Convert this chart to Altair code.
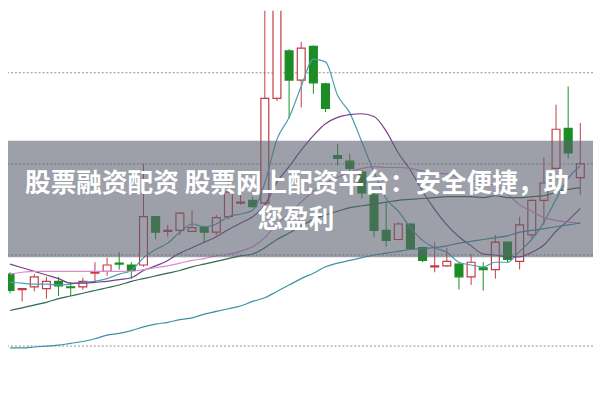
import altair as alt
import pandas as pd

# ---- data (prices; grid lines at 10, 11, 12, 13) ----
idx = list(range(48))
opens = [10.79, 10.62, 10.65, 10.63, 10.71, 10.65, 10.65, 10.80, 10.82, 10.91,
         10.89, 10.89, 11.42, 11.26, 11.27, 11.26, 11.30, 11.25, 11.42, 11.57,
         11.60, 11.57, 12.72, 13.24, 12.92, 13.29, 12.88, 12.09, 12.03, 11.91,
         11.66, 11.27, 11.17, 11.34, 11.08, 10.87, 10.88, 10.90, 10.76, 10.86,
         10.84, 11.14, 10.93, 11.22, 11.60, 11.95, 12.39, 11.85]
closes = [10.61, 10.63, 10.76, 10.71, 10.66, 10.64, 10.71, 10.81, 10.89, 10.90,
          10.83, 11.42, 11.25, 11.27, 11.46, 11.30, 11.25, 11.41, 11.69, 11.58,
          11.53, 12.72, 13.82, 12.92, 13.27, 12.89, 12.61, 12.06, 11.95, 11.68,
          11.27, 11.16, 11.34, 11.07, 10.94, 10.88, 10.93, 10.76, 10.92, 10.84,
          11.14, 10.95, 11.33, 11.60, 11.79, 12.38, 12.12, 12.00]
highs = [10.81, 10.64, 10.79, 10.76, 10.76, 10.70, 10.75, 10.92, 10.97, 11.03,
         10.92, 12.00, 11.43, 11.33, 11.47, 11.49, 11.32, 11.44, 11.82, 11.68,
         11.64, 13.99, 13.99, 13.26, 13.34, 13.30, 12.89, 12.22, 12.11, 11.93,
         11.68, 11.58, 11.36, 11.35, 11.09, 11.14, 11.08, 10.91, 11.01, 10.92,
         11.22, 11.15, 11.42, 11.61, 12.07, 12.65, 12.85, 12.45]
lows = [10.58, 10.49, 10.60, 10.52, 10.55, 10.55, 10.62, 10.70, 10.77, 10.84,
        10.74, 10.87, 11.17, 11.20, 11.22, 11.25, 11.14, 11.22, 11.39, 11.55,
        11.52, 11.55, 12.69, 12.50, 12.62, 12.77, 12.57, 11.98, 11.90, 11.62,
        11.20, 11.09, 11.16, 11.06, 10.92, 10.81, 10.87, 10.62, 10.67, 10.61,
        10.74, 10.92, 10.84, 11.18, 11.33, 11.95, 12.06, 11.66]

ma5 = [10.70, 10.69, 10.68, 10.68, 10.67, 10.68, 10.70, 10.71, 10.74, 10.79,
       10.83, 10.97, 11.06, 11.13, 11.25, 11.34, 11.31, 11.34, 11.42, 11.45,
       11.49, 11.79, 12.27, 12.51, 12.85, 13.15, 13.12, 12.75, 12.56, 12.24,
       11.91, 11.62, 11.48, 11.30, 11.16, 11.08, 11.03, 10.92, 10.89, 10.87,
       10.92, 10.92, 11.04, 11.17, 11.36, 11.61, 11.84, 11.98]
ma10 = [10.90, 10.86, 10.82, 10.78, 10.74, 10.69, 10.69, 10.70, 10.71, 10.73,
        10.75, 10.83, 10.88, 10.94, 11.02, 11.08, 11.14, 11.20, 11.28, 11.35,
        11.42, 11.55, 11.80, 11.97, 12.15, 12.31, 12.44, 12.51, 12.54, 12.55,
        12.52, 12.36, 12.12, 11.93, 11.70, 11.50, 11.33, 11.20, 11.10, 11.01,
        11.00, 10.98, 10.98, 11.03, 11.11, 11.26, 11.38, 11.51]
ma20 = [10.79, 10.81, 10.82, 10.82, 10.82, 10.82, 10.82, 10.82, 10.82, 10.82,
        10.82, 10.84, 10.86, 10.88, 10.91, 10.94, 10.96, 10.99, 11.01, 11.04,
        11.09, 11.19, 11.34, 11.45, 11.58, 11.70, 11.79, 11.85, 11.91, 11.95,
        11.97, 11.96, 11.96, 11.95, 11.92, 11.90, 11.89, 11.85, 11.82, 11.78,
        11.76, 11.67, 11.55, 11.48, 11.41, 11.38, 11.36, 11.35]
ma30 = [10.39, 10.42, 10.45, 10.48, 10.52, 10.55, 10.58, 10.61, 10.64, 10.67,
        10.71, 10.74, 10.77, 10.80, 10.83, 10.87, 10.90, 10.93, 10.96, 10.99,
        11.01, 11.08, 11.17, 11.24, 11.32, 11.39, 11.44, 11.48, 11.52, 11.54,
        11.56, 11.58, 11.60, 11.61, 11.62, 11.63, 11.64, 11.64, 11.64, 11.63,
        11.65, 11.63, 11.63, 11.64, 11.65, 11.69, 11.72, 11.74]
ma60 = [9.98, 9.98, 9.99, 10.00, 10.01, 10.03, 10.05, 10.08, 10.12, 10.14,
        10.17, 10.21, 10.24, 10.26, 10.29, 10.31, 10.35, 10.38, 10.41, 10.44,
        10.49, 10.53, 10.60, 10.67, 10.74, 10.80, 10.87, 10.91, 10.94, 10.97,
        11.00, 11.02, 11.04, 11.06, 11.07, 11.08, 11.10, 11.13, 11.15, 11.17,
        11.19, 11.21, 11.25, 11.27, 11.29, 11.31, 11.33, 11.35]

ma_names = ["MA5", "MA10", "MA20", "MA30", "MA60"]
ma_colors = ["#4a9fb4", "#7a3e86", "#d98cd6", "#2f6a52", "#3b93a8"]
grid_levels = [10, 11, 12, 13]
banner_line1 = "股票融资配资 股票网上配资平台：安全便捷，助"
banner_line2 = "您盈利"

RED = "#c23a44"
GREEN = "#1c8c24"

# ---- tables ----
candles = pd.DataFrame({"i": idx, "open": opens, "close": closes,
                        "high": highs, "low": lows})
candles["dir"] = ["up" if c >= o else "down" for o, c in zip(opens, closes)]

grid = pd.DataFrame({"level": grid_levels})
one = pd.DataFrame({"k": [0]})

xs = alt.Scale(domain=[0.24, 47.64], nice=False, zero=False)
ys = alt.Scale(domain=[9.4368, 13.6823], nice=False, zero=False)
dir_dom = ["up", "down"]

grid_layer = alt.Chart(grid).mark_rule(
    color="#8c8c8c", strokeDash=[2, 2], strokeWidth=1
).encode(y=alt.Y("level:Q", scale=ys, axis=None))

wicks = alt.Chart(candles).mark_rule(strokeWidth=1, clip=True).encode(
    x=alt.X("i:Q", scale=xs, axis=None),
    y=alt.Y("low:Q", scale=ys, axis=None),
    y2="high:Q",
    stroke=alt.Stroke("dir:N", scale=alt.Scale(domain=dir_dom, range=[RED, GREEN]), legend=None),
)

bodies = alt.Chart(candles).mark_bar(size=8, strokeWidth=1.2, clip=True).encode(
    x=alt.X("i:Q", scale=xs, axis=None),
    y=alt.Y("open:Q", scale=ys, axis=None),
    y2="close:Q",
    fill=alt.Fill("dir:N", scale=alt.Scale(domain=dir_dom, range=["#ffffff", GREEN]), legend=None),
    stroke=alt.Stroke("dir:N", scale=alt.Scale(domain=dir_dom, range=[RED, GREEN]), legend=None),
)

line_layers = []
for name, series, col in zip(ma_names, [ma5, ma10, ma20, ma30, ma60], ma_colors):
    d = pd.DataFrame({"i": idx, "v": series})
    line_layers.append(
        alt.Chart(d).mark_line(strokeWidth=1.2, clip=True, interpolate="monotone", color=col).encode(
            x=alt.X("i:Q", scale=xs, axis=None),
            y=alt.Y("v:Q", scale=ys, axis=None),
        )
    )

banner = alt.Chart(one).mark_rect(color="#5b6170", opacity=0.6).encode(
    x=alt.value(0), x2=alt.value(593), y=alt.value(132), y2=alt.value(250)
)

text1 = alt.Chart(one).mark_text(
    text=banner_line1, font="Noto Sans CJK SC", fontSize=26, fontWeight="bold",
    color="white", align="center", baseline="middle"
).encode(x=alt.value(293), y=alt.value(176))

text2 = alt.Chart(one).mark_text(
    text=banner_line2, font="Noto Sans CJK SC", fontSize=26, fontWeight="bold",
    color="white", align="center", baseline="middle"
).encode(x=alt.value(292), y=alt.value(212))

chart = alt.layer(grid_layer, wicks, bodies, *line_layers, banner, text1, text2).properties(
    width=593, height=392, padding=0, autosize="none", background="white"
).configure_view(stroke=None)

chart.save("out.html", embed_options={"renderer": "svg", "actions": False})
